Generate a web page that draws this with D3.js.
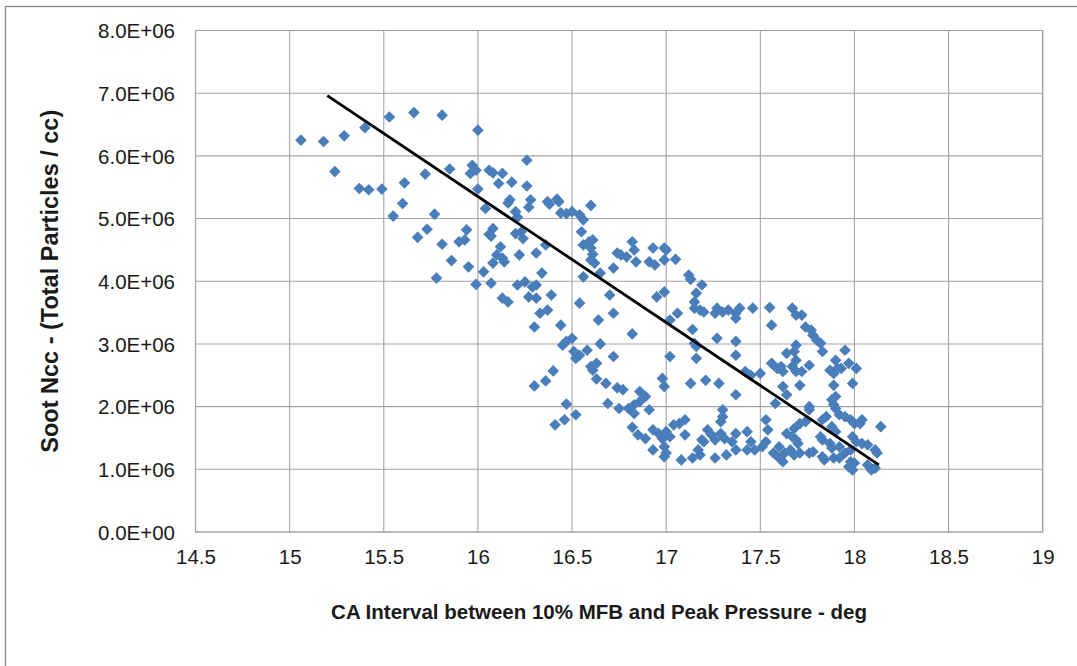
<!DOCTYPE html>
<html>
<head>
<meta charset="utf-8">
<script src="https://cdn.jsdelivr.net/npm/d3@7"></script>
<style>
  html, body { margin: 0; padding: 0; background: #fff; }
  svg { display: block; font-family: "Liberation Sans", Arial, sans-serif; }
</style>
</head>
<body>
<svg id="chart" width="1077" height="666"></svg>
<script>
// Crank-angle interval (deg) between 10% mass fraction burned and peak pressure
const caInterval = [
  15.06,15.18,15.29,15.40,15.53,15.66,15.81,15.24,15.37,15.42,15.49,15.61,15.72,15.85,15.60,15.55,15.77,15.73,15.68,15.81,15.90,15.93,15.94,15.86,15.95,15.78,
  16.00,16.26,15.97,15.96,15.99,16.06,16.08,16.13,16.11,16.18,16.26,16.00,16.17,16.16,16.28,16.27,16.37,16.38,16.42,16.43,16.44,16.47,16.50,16.60,16.54,16.56,
  16.04,16.20,16.21,16.08,16.06,16.07,16.20,16.23,16.24,16.12,16.10,16.13,16.08,16.14,16.22,16.31,16.36,16.55,16.56,16.59,16.61,16.60,16.61,16.60,16.62,
  16.03,15.99,16.07,16.21,16.25,16.29,16.31,16.34,16.13,16.16,16.27,16.31,16.39,16.33,16.37,16.30,16.44,16.54,16.64,16.72,16.70,16.72,16.65,16.56,
  16.74,16.76,16.79,16.82,16.83,16.84,16.82,
  16.45,16.47,16.50,16.51,16.52,16.54,16.58,16.65,16.72,16.60,16.63,16.61,16.40,16.36,16.30,16.63,16.68,16.74,16.77,16.86,16.47,16.52,16.41,16.46,
  16.69,16.75,16.80,16.83,16.82,16.85,
  16.93,16.91,16.94,16.99,17.00,16.99,17.05,17.12,17.13,17.19,16.95,16.99,17.16,17.15,17.15,17.18,17.20,17.06,17.27,17.26,17.30,17.33,17.37,17.39,
  17.37,17.46,17.55,17.67,17.69,17.56,17.02,17.14,17.27,17.37,17.15,17.16,17.16,17.02,17.37,17.42,17.45,17.50,17.56,17.59,17.61,17.62,17.64,17.68,
  17.69,17.69,17.67,17.69,16.98,16.99,17.13,17.21,17.28,17.37,17.62,17.64,17.58,16.89,16.86,16.83,16.91,17.30,17.30,17.29,17.07,17.04,17.10,16.89,
  16.93,16.96,16.98,17.02,17.00,17.10,17.22,17.24,17.19,17.26,17.29,17.31,17.35,17.37,17.43,17.45,17.43,17.53,17.54,17.60,17.63,17.66,17.64,17.68,
  17.69,17.67,16.93,16.99,17.00,16.99,17.08,17.14,17.17,17.20,17.26,17.32,17.37,17.47,17.51,17.53,17.57,17.60,17.18,
  17.72,17.74,17.77,17.78,17.80,17.82,17.83,17.95,17.90,17.91,17.89,17.87,17.93,17.97,18.01,17.76,17.72,17.71,17.99,17.89,17.90,17.88,17.89,17.90,
  17.76,17.76,17.85,17.83,17.92,17.95,17.98,18.00,18.03,18.04,18.14,17.71,17.74,17.88,17.90,17.82,17.83,17.70,17.99,18.01,18.04,18.07,18.11,18.12,
  17.87,17.88,17.92,17.95,17.98,17.68,17.71,17.76,17.78,17.83,17.84,17.89,17.92,17.98,18.00,17.97,17.99,18.07,18.09,18.11,17.62
];

// Soot number concentration, millions of particles per cc
const sootNccMillions = [
  6.25,6.23,6.32,6.45,6.62,6.69,6.65,5.75,5.48,5.46,5.47,5.57,5.71,5.79,5.24,5.04,5.07,4.83,4.70,4.59,4.63,4.66,4.82,4.33,4.23,4.05,
  6.41,5.93,5.85,5.72,5.77,5.77,5.73,5.72,5.56,5.58,5.52,5.47,5.30,5.25,5.30,5.18,5.27,5.23,5.31,5.27,5.09,5.08,5.11,5.21,5.06,4.98,
  5.16,5.11,5.02,4.84,4.75,4.72,4.76,4.79,4.68,4.55,4.42,4.37,4.29,4.31,4.42,4.45,4.58,4.79,4.58,4.63,4.66,4.53,4.43,4.34,4.29,
  4.15,3.95,3.97,3.94,3.99,3.91,3.94,4.13,3.73,3.67,3.75,3.73,3.78,3.49,3.54,3.27,3.30,3.65,3.38,3.49,3.78,4.21,4.13,4.07,
  4.45,4.42,4.39,4.63,4.50,4.31,3.16,
  2.98,3.04,3.09,2.88,2.77,2.82,2.90,3.00,2.80,2.64,2.69,2.58,2.57,2.41,2.33,2.44,2.37,2.30,2.27,2.24,2.04,1.87,1.71,1.79,
  2.05,1.97,1.97,1.89,1.67,1.55,
  4.53,4.31,4.26,4.53,4.50,4.34,4.35,4.10,4.03,3.94,3.75,3.83,3.81,3.67,3.57,3.54,3.51,3.49,3.57,3.49,3.51,3.54,3.49,3.57,
  3.41,3.57,3.58,3.57,3.46,3.30,3.38,3.23,3.09,3.04,3.01,2.96,2.77,2.80,2.82,2.56,2.50,2.53,2.69,2.61,2.64,2.56,2.85,2.88,
  2.98,2.74,2.64,2.56,2.45,2.32,2.37,2.42,2.37,2.19,2.32,2.19,2.05,2.16,2.08,2.03,1.95,1.95,1.84,1.76,1.73,1.71,1.79,1.49,
  1.63,1.57,1.49,1.52,1.60,1.55,1.63,1.55,1.47,1.47,1.57,1.49,1.44,1.57,1.60,1.44,1.31,1.79,1.63,1.36,1.26,1.31,1.57,1.65,
  1.47,1.52,1.31,1.36,1.26,1.20,1.15,1.18,1.31,1.44,1.18,1.23,1.31,1.31,1.36,1.44,1.26,1.18,1.23,
  3.46,3.27,3.22,3.14,3.06,3.01,2.88,2.90,2.74,2.61,2.53,2.58,2.61,2.69,2.61,2.66,2.56,2.34,2.37,2.34,2.16,2.11,2.03,1.97,
  2.00,1.95,1.84,1.79,1.87,1.84,1.79,1.73,1.73,1.79,1.68,1.73,1.76,1.68,1.60,1.52,1.47,1.41,1.52,1.44,1.41,1.39,1.31,1.26,
  1.41,1.34,1.36,1.26,1.31,1.23,1.26,1.26,1.28,1.20,1.15,1.18,1.18,1.12,1.10,1.04,0.99,1.07,0.99,1.02,1.12
];

// Linear trend line end points (deg, millions/cc)
const trendX = [15.20, 18.13];
const trendY = [6.96, 1.07];

// Axis ticks
const xTicks = [14.5, 15, 15.5, 16, 16.5, 17, 17.5, 18, 18.5, 19];
const yTicks = [0, 1e6, 2e6, 3e6, 4e6, 5e6, 6e6, 7e6, 8e6];

const xTitle = "CA Interval between 10% MFB and Peak Pressure - deg";
const yTitle = "Soot Ncc - (Total Particles / cc)";

const svg = d3.select("#chart");
const W = 1077, H = 666;
const plot = { left: 195.5, right: 1042.7, top: 30.5, bottom: 532 };

const x = d3.scaleLinear().domain([14.5, 19]).range([plot.left, plot.right]);
const y = d3.scaleLinear().domain([0, 8e6]).range([plot.bottom, plot.top]);

const points = caInterval.map((v, i) => ({ x: v, y: sootNccMillions[i] * 1e6 }));

// Chart area frame (extends past the right and bottom edges)
svg.append("rect")
  .attr("x", 5.5).attr("y", 6.5)
  .attr("width", W + 20).attr("height", H + 20)
  .attr("fill", "#fff")
  .attr("stroke", "#8c8c8c")
  .attr("stroke-width", 1.3);

// Gridlines
const grid = svg.append("g").attr("stroke", "#a3a3a3").attr("stroke-width", 1.1);
grid.selectAll("line.v").data(xTicks).join("line")
  .attr("x1", d => x(d)).attr("x2", d => x(d))
  .attr("y1", plot.top).attr("y2", plot.bottom);
grid.selectAll("line.h").data(yTicks).join("line")
  .attr("x1", plot.left).attr("x2", plot.right)
  .attr("y1", d => y(d)).attr("y2", d => y(d));

svg.append("rect")
  .attr("x", plot.left).attr("y", plot.top)
  .attr("width", plot.right - plot.left).attr("height", plot.bottom - plot.top)
  .attr("fill", "none").attr("stroke", "#a3a3a3").attr("stroke-width", 1.1);

// Axes (labels only)
const sci = v => {
  if (v === 0) return "0.0E+00";
  const e = Math.floor(Math.log10(v));
  return (v / Math.pow(10, e)).toFixed(1) + "E+" + String(e).padStart(2, "0");
};

const yAxis = svg.append("g")
  .attr("transform", `translate(${plot.left},0)`)
  .call(d3.axisLeft(y).tickValues(yTicks).tickFormat(sci).tickSize(0).tickPadding(20.5));
const xAxis = svg.append("g")
  .attr("transform", `translate(0,${plot.bottom})`)
  .call(d3.axisBottom(x).tickValues(xTicks).tickFormat(d => String(d)).tickSize(0).tickPadding(17.5));

[yAxis, xAxis].forEach(g => {
  g.select(".domain").remove();
  g.selectAll("text")
    .attr("font-size", "20.5px")
    .attr("fill", "#1a1a1a")
    .attr("font-family", "'Liberation Sans', Arial, sans-serif");
});
yAxis.selectAll("text").attr("dy", "0.35em");

// Data points (diamonds)
const diamond = d3.symbol(d3.symbolSquare, 68);
svg.append("g")
  .selectAll("path")
  .data(points)
  .join("path")
  .attr("d", diamond)
  .attr("transform", d => `translate(${x(d.x)},${y(d.y)}) rotate(45)`)
  .attr("fill", "#4a7ebb");

// Trend line
const line = d3.line().x(d => x(d[0])).y(d => y(d[1] * 1e6));
svg.append("path")
  .datum(trendX.map((v, i) => [v, trendY[i]]))
  .attr("d", line)
  .attr("fill", "none")
  .attr("stroke", "#000")
  .attr("stroke-width", 2.8);

// Axis titles
svg.append("text")
  .attr("x", 599).attr("y", 619)
  .attr("text-anchor", "middle")
  .attr("font-size", "20.5px")
  .attr("font-weight", "bold")
  .attr("fill", "#1a1a1a")
  .text(xTitle);

svg.append("text")
  .attr("transform", `translate(58,${(plot.top + plot.bottom) / 2}) rotate(-90)`)
  .attr("text-anchor", "middle")
  .attr("font-size", "23.5px")
  .attr("font-weight", "bold")
  .attr("fill", "#1a1a1a")
  .text(yTitle);
</script>
</body>
</html>
